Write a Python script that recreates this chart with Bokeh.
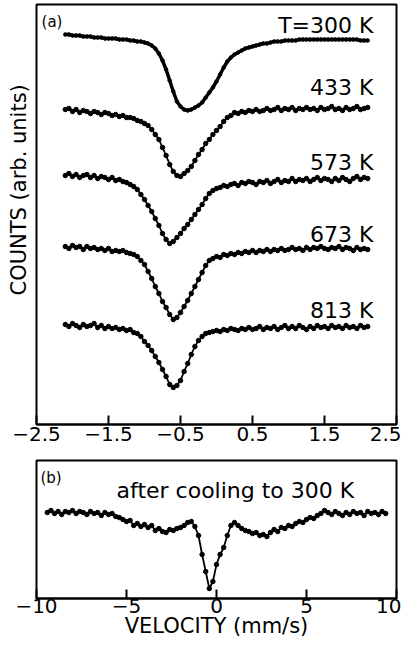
from bokeh.plotting import figure
from bokeh.layouts import column
from bokeh.models import Range1d, FixedTicker, Label, Title
from bokeh.embed import file_html
from bokeh.resources import INLINE

# ---------------- data: panel (a) ----------------
VEL_A = [-2.10, -2.05, -2.00, -1.95, -1.90, -1.85, -1.80, -1.75, -1.70, -1.65,
         -1.60, -1.55, -1.50, -1.45, -1.40, -1.35, -1.30, -1.25, -1.20, -1.15,
         -1.10, -1.05, -1.00, -0.95, -0.90, -0.85, -0.80, -0.75, -0.70, -0.65,
         -0.60, -0.55, -0.50, -0.45, -0.40, -0.35, -0.30, -0.25, -0.20, -0.15,
         -0.10, -0.05, 0.00, 0.05, 0.10, 0.15, 0.20, 0.25, 0.30, 0.35,
         0.40, 0.45, 0.50, 0.55, 0.60, 0.65, 0.70, 0.75, 0.80, 0.85,
         0.90, 0.95, 1.00, 1.05, 1.10, 1.15, 1.20, 1.25, 1.30, 1.35,
         1.40, 1.45, 1.50, 1.55, 1.60, 1.65, 1.70, 1.75, 1.80, 1.85,
         1.90, 1.95, 2.00, 2.05, 2.10]

COUNTS_300K = [390, 390, 389, 389, 389, 388, 388, 388, 387, 387,
               387, 386, 386, 386, 386, 385, 385, 385, 384, 384,
               383, 383, 382, 381, 379, 376, 371, 364, 355, 344,
               333, 323, 318, 315, 314, 315, 317, 319, 322, 327,
               332, 337, 343, 350, 357, 363, 367, 370, 372, 374,
               376, 377, 378, 379, 380, 381, 381, 382, 383, 383,
               383, 384, 384, 384, 384, 385, 385, 385, 385, 385,
               385, 385, 385, 385, 385, 385, 385, 385, 385, 385,
               385, 385, 384, 384, 384]

COUNTS_433K = [315, 316, 313, 315, 312, 314, 313, 311, 313, 312,
               310, 312, 311, 309, 310, 308, 309, 307, 307, 306,
               304, 303, 301, 299, 295, 290, 285, 277, 269, 260,
               253, 249, 248, 251, 254, 258, 264, 270, 275, 281,
               285, 290, 294, 298, 303, 307, 309, 312, 311, 313,
               312, 314, 313, 315, 313, 314, 316, 314, 315, 317,
               314, 316, 315, 317, 314, 316, 315, 317, 315, 316,
               314, 317, 315, 316, 318, 315, 316, 314, 317, 315,
               316, 318, 315, 316, 317]

COUNTS_573K = [249, 251, 248, 250, 247, 249, 250, 247, 249, 246,
               248, 247, 245, 247, 244, 245, 243, 242, 240, 238,
               235, 230, 225, 219, 213, 206, 199, 191, 185, 181,
               183, 187, 191, 196, 200, 205, 210, 215, 220, 226,
               231, 234, 236, 237, 239, 238, 240, 241, 239, 242,
               241, 243, 242, 240, 243, 242, 244, 241, 243, 245,
               242, 244, 243, 246, 243, 245, 244, 246, 243, 245,
               247, 244, 246, 245, 243, 246, 244, 247, 245, 243,
               246, 248, 245, 247, 246]

COUNTS_673K = [178, 176, 179, 177, 178, 175, 178, 176, 177, 175,
               176, 174, 176, 173, 174, 173, 174, 172, 171, 170,
               168, 164, 160, 153, 146, 138, 131, 123, 117, 110,
               105, 107, 112, 118, 124, 131, 138, 145, 152, 159,
               164, 166, 168, 167, 170, 169, 171, 170, 172, 171,
               173, 172, 174, 172, 174, 173, 175, 173, 175, 174,
               176, 174, 175, 177, 175, 176, 174, 177, 175, 177,
               176, 178, 176, 175, 177, 176, 178, 175, 177, 176,
               174, 177, 175, 176, 175]

COUNTS_813K = [100, 98, 101, 99, 97, 100, 98, 99, 101, 97,
               99, 96, 98, 96, 97, 95, 96, 94, 95, 92,
               91, 88, 83, 79, 74, 68, 62, 55, 48, 40,
               37, 39, 44, 53, 61, 70, 78, 84, 88, 91,
               92, 93, 94, 93, 95, 94, 96, 95, 94, 96,
               95, 97, 95, 96, 98, 95, 97, 96, 98, 95,
               97, 99, 96, 98, 96, 99, 97, 95, 98, 96,
               99, 97, 98, 96, 99, 97, 98, 96, 99, 97,
               98, 96, 99, 97, 98]

TEMP_LABELS = ["T=300 K", "433 K", "573 K", "673 K", "813 K"]
TICKS_A = [-2.5, -1.5, -0.5, 0.5, 1.5, 2.5]
TICK_LABELS_A = ["\u22122.5", "\u22121.5", "\u22120.5", "0.5", "1.5", "2.5"]

# ---------------- data: panel (b) ----------------
VEL_B = [-9.4, -9.2, -9.0, -8.8, -8.6, -8.4, -8.2, -8.0, -7.8, -7.6,
         -7.4, -7.2, -7.0, -6.8, -6.6, -6.4, -6.2, -6.0, -5.8, -5.6,
         -5.4, -5.2, -5.0, -4.8, -4.6, -4.4, -4.2, -4.0, -3.8, -3.6,
         -3.4, -3.2, -3.0, -2.8, -2.6, -2.4, -2.2, -2.0, -1.8, -1.6,
         -1.4, -1.2, -1.0, -0.8, -0.6, -0.4, -0.2, 0.0, 0.2, 0.4,
         0.6, 0.8, 1.0, 1.2, 1.4, 1.6, 1.8, 2.0, 2.2, 2.4,
         2.6, 2.8, 3.0, 3.2, 3.4, 3.6, 3.8, 4.0, 4.2, 4.4,
         4.6, 4.8, 5.0, 5.2, 5.4, 5.6, 5.8, 6.0, 6.2, 6.4,
         6.6, 6.8, 7.0, 7.2, 7.4, 7.6, 7.8, 8.0, 8.2, 8.4,
         8.6, 8.8, 9.0, 9.2, 9.4]

COUNTS_COOLED = [93, 95, 92, 94, 91, 94, 93, 95, 92, 94,
                 93, 91, 94, 92, 93, 90, 93, 91, 92, 89,
                 88, 86, 84, 85, 80, 82, 79, 81, 78, 80,
                 75, 77, 74, 73, 76, 75, 77, 78, 80, 83,
                 84, 79, 70, 51, 34, 17, 24, 41, 51, 58,
                 70, 80, 83, 80, 77, 75, 74, 72, 73, 70,
                 71, 69, 73, 76, 74, 78, 77, 80, 79, 82,
                 84, 83, 86, 88, 87, 90, 92, 95, 93, 91,
                 94, 92, 90, 93, 91, 94, 92, 93, 90, 94,
                 92, 93, 91, 94, 92]

TICKS_B = [-10, -5, 0, 5, 10]
TICK_LABELS_B = ["\u221210", "\u22125", "0", "5", "10"]

FONT = "DejaVu Sans"


def style_axes(p, ticks, labels, standoff):
    p.yaxis.visible = False
    p.grid.visible = False
    p.outline_line_color = "black"
    p.outline_line_width = 2
    p.outline_line_alpha = 1
    ax = p.xaxis[0]
    ax.ticker = FixedTicker(ticks=ticks)
    ax.major_label_overrides = {t: l for t, l in zip(ticks, labels)}
    ax.major_tick_in = 9
    ax.major_tick_out = 0
    ax.major_tick_line_width = 2
    ax.major_tick_line_color = "black"
    ax.minor_tick_line_color = None
    ax.axis_line_width = 2
    ax.axis_line_color = "black"
    ax.major_label_text_font = FONT
    ax.major_label_text_font_size = "20px"
    ax.major_label_text_color = "black"
    ax.major_label_standoff = standoff
    p.background_fill_color = "white"
    p.border_fill_color = "white"


# ---------------- panel (a) ----------------
pa = figure(width=401, height=458, x_range=Range1d(-2.5, 2.5), y_range=Range1d(0, 420),
            output_backend="svg", toolbar_location=None,
            min_border_left=36, min_border_right=3, min_border_top=4, min_border_bottom=34)
style_axes(pa, TICKS_A, TICK_LABELS_A, 2)

pa.add_layout(Title(text="COUNTS (arb. units)", align="left", offset=129, standoff=10,
                    vertical_align="middle", text_font=FONT, text_font_size="21px",
                    text_font_style="normal", text_color="black"), "left")

series_a = [COUNTS_300K, COUNTS_433K, COUNTS_573K, COUNTS_673K, COUNTS_813K]
for i, ys in enumerate(series_a):
    if i == 0:
        pa.line(VEL_A, ys, line_color="black", line_width=3.5)
        pa.scatter(VEL_A, ys, size=3.5, color="black")
    else:
        pa.line(VEL_A, ys, line_color="black", line_width=1.8)
        pa.scatter(VEL_A, ys, size=4.5, color="black")

label_y = [399, 337, 262, 190, 114]
for txt, ly in zip(TEMP_LABELS, label_y):
    pa.add_layout(Label(x=2.18, y=ly, text=txt, text_align="right", text_baseline="alphabetic",
                        text_font=FONT, text_font_size="22px", text_color="black"))
pa.add_layout(Label(x=-2.43, y=412, text="(a)", text_align="left", text_baseline="top",
                    text_font=FONT, text_font_size="15px", text_color="black"))

# ---------------- panel (b) ----------------
pb = figure(width=401, height=186, x_range=Range1d(-10, 10), y_range=Range1d(7, 145),
            output_backend="svg", toolbar_location=None,
            min_border_left=36, min_border_right=5, min_border_top=2, min_border_bottom=46)
style_axes(pb, TICKS_B, TICK_LABELS_B, 0)
pb.xaxis.axis_label = "VELOCITY (mm/s)"
pb.xaxis.axis_label_text_font = FONT
pb.xaxis.axis_label_text_font_size = "21px"
pb.xaxis.axis_label_text_font_style = "normal"
pb.xaxis.axis_label_text_color = "black"
pb.xaxis.axis_label_standoff = -2
pb.line(VEL_B, COUNTS_COOLED, line_color="black", line_width=1.8)
pb.scatter(VEL_B, COUNTS_COOLED, size=4.5, color="black")

pb.add_layout(Label(x=-9.78, y=137, text="(b)", text_align="left", text_baseline="top",
                    text_font=FONT, text_font_size="15px", text_color="black"))
pb.add_layout(Label(x=1.05, y=115, text="after cooling to 300 K", text_align="center",
                    text_baseline="alphabetic", text_font=FONT, text_font_size="22px",
                    text_color="black"))

layout = column(pa, pb, spacing=0)
open("out.html", "w").write(file_html(layout, INLINE))
